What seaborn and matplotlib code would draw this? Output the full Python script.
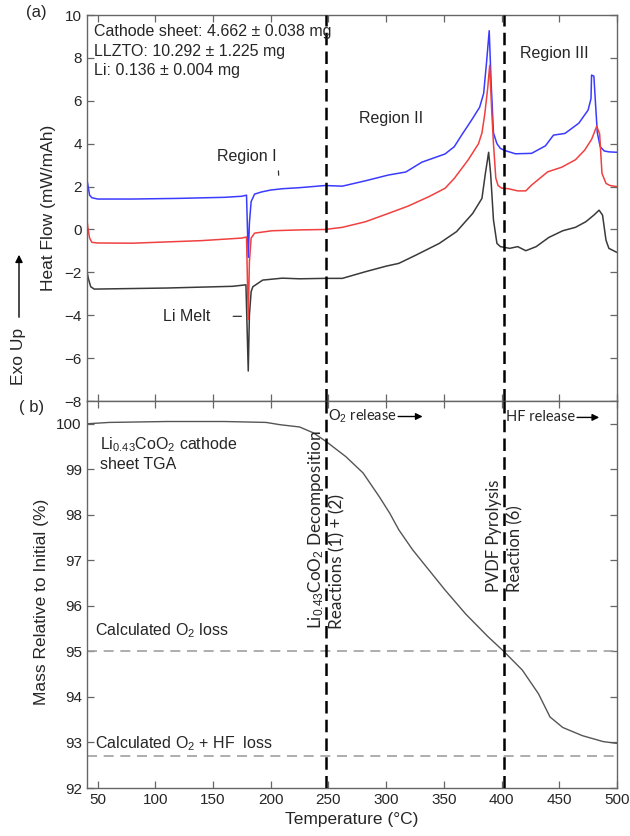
import matplotlib
matplotlib.use("Agg")
import matplotlib.pyplot as plt
import seaborn as sns
import pandas as pd

# ---------------- data ----------------
blue_T = [40.5, 41.5, 43, 45, 50, 80, 120, 160, 175, 179, 180.5, 181.5, 183, 186, 192, 200,
          210, 225, 247, 262, 282, 302, 317, 331, 351, 359, 366, 374, 381, 384.5, 387, 389.3,
          391, 393, 396, 399, 403, 412, 426, 438, 445, 455, 467, 475, 477.5, 478, 480, 481.5,
          483, 485.5, 489, 493, 500]
blue_v = [2.35, 2.1, 1.6, 1.48, 1.42, 1.42, 1.45, 1.5, 1.55, 1.6, -1.3, 0.3, 1.3, 1.65, 1.75, 1.84,
          1.9, 1.95, 2.05, 2.02, 2.27, 2.54, 2.68, 3.14, 3.52, 3.86, 4.45, 5.1, 5.7, 6.35, 7.8, 9.27,
          6.8, 4.5, 4.0, 3.78, 3.68, 3.53, 3.55, 3.9, 4.4, 4.48, 4.96, 5.57, 6.1, 7.2, 7.15, 5.8,
          4.5, 3.86, 3.66, 3.62, 3.6]

red_T = [40.5, 41.5, 43, 45, 50, 80, 140, 175, 179, 180.5, 181.5, 183, 186, 201, 225, 247, 262,
         282, 302, 319, 337, 351, 359, 371, 380, 383, 385.5, 388, 389.7, 391.5, 393, 395, 397,
         400, 406, 414, 421, 426, 440, 452, 464, 472, 478, 482.5, 485, 487, 490.5, 494, 500]
red_v = [0.55, 0.1, -0.4, -0.6, -0.63, -0.64, -0.52, -0.4, -0.35, -4.2, -1.5, -0.4, -0.17, -0.06,
         -0.02, 0.0, 0.1, 0.36, 0.75, 1.09, 1.53, 1.92, 2.38, 3.24, 4.0, 4.5, 5.4, 6.6, 7.65, 5.5,
         4.0, 2.4, 2.05, 1.93, 1.9, 1.8, 1.8, 2.07, 2.69, 2.9, 3.25, 3.7, 4.2, 4.82, 4.45, 2.62,
         2.15, 2.05, 2.0]

black_T = [40.5, 42, 44, 47, 110, 167, 178.5, 180.5, 181.5, 183, 184.5, 193, 210, 225, 247, 262,
           282, 300, 311, 326, 346, 361, 375, 383, 386, 388.8, 390.5, 393, 396, 399, 407, 414,
           421, 430, 441, 453, 464, 473, 480, 484.5, 487.5, 490.5, 493, 500]
black_v = [-1.9, -2.3, -2.67, -2.78, -2.73, -2.65, -2.58, -6.6, -4.0, -2.9, -2.67, -2.36, -2.27,
           -2.3, -2.28, -2.28, -1.97, -1.71, -1.58, -1.19, -0.65, -0.1, 0.75, 1.45, 2.62, 3.6,
           2.62, 0.44, -0.65, -0.8, -0.88, -0.8, -0.99, -0.8, -0.37, -0.06, 0.1, 0.36, 0.67,
           0.9, 0.67, -0.5, -0.88, -1.07]

tga_T = [40.5, 60, 110, 160, 196, 208, 225, 237, 248, 265, 280, 294, 303, 311, 323, 337, 351,
         369, 388, 402, 418, 432, 442, 453, 470, 488, 500]
tga_m = [100.0, 100.03, 100.05, 100.05, 100.03, 99.98, 99.93, 99.8, 99.61, 99.28, 98.92, 98.4,
         98.04, 97.67, 97.23, 96.79, 96.35, 95.82, 95.33, 95.0, 94.59, 94.07, 93.56, 93.33,
         93.15, 93.02, 92.98]

reaction_T = [247.5, 402]
calc_losses = [95.0, 92.7]

# ---------------- style ----------------
sns.set_style("ticks")
plt.rcParams['font.family'] = ['Liberation Sans', 'DejaVu Sans']
plt.rcParams['mathtext.fontset'] = 'custom'
plt.rcParams['mathtext.rm'] = 'Liberation Sans'
plt.rcParams['mathtext.it'] = 'Liberation Sans:italic'
plt.rcParams['mathtext.bf'] = 'Liberation Sans:bold'

SP = '#666666'
fig = plt.figure(figsize=(6.3, 8.36), dpi=100)
ax1 = fig.add_axes([0.1376, 0.5203, 0.8417, 0.4617])
ax2 = fig.add_axes([0.1376, 0.0574, 0.8417, 0.4629])

df_b = pd.DataFrame({'T': blue_T, 'v': blue_v})
df_r = pd.DataFrame({'T': red_T, 'v': red_v})
df_k = pd.DataFrame({'T': black_T, 'v': black_v})
df_t = pd.DataFrame({'T': tga_T, 'm': tga_m})

sns.lineplot(data=df_b, x='T', y='v', ax=ax1, color='#3b3bff', lw=1.1, estimator=None, sort=False)
sns.lineplot(data=df_k, x='T', y='v', ax=ax1, color='#3a3a3a', lw=1.1, estimator=None, sort=False)
sns.lineplot(data=df_r, x='T', y='v', ax=ax1, color='#f04040', lw=1.1, estimator=None, sort=False)
sns.lineplot(data=df_t, x='T', y='m', ax=ax2, color='#555555', lw=1.0, estimator=None, sort=False)

for ax in (ax1, ax2):
    for t in reaction_T:
        ax.axvline(t, color='black', lw=1.8, ls=(0, (5, 2.5)), zorder=3)
    ax.set_xlim(40.5, 500)
    ax.set_xticks(range(50, 501, 50))
    ax.tick_params(direction='in', top=True, right=True, length=5, width=0.9,
                   color=SP, labelsize=11)
    for s in ax.spines.values():
        s.set_color(SP)
        s.set_linewidth(1.0)

for c in calc_losses:
    ax2.axhline(c, color='#a0a0a0', lw=1.2, ls=(0, (6, 4)), zorder=1)

ax1.set_ylim(-8, 10)
ax1.set_yticks(range(-8, 11, 2))
ax1.tick_params(labelbottom=False)
ax1.set_xlabel('')
ax1.set_ylabel('Heat Flow (mW/mAh)', fontsize=12.5)
ax1.yaxis.set_label_coords(-0.057, 0.5)

ax2.set_ylim(92, 100.5)
ax2.set_yticks(range(92, 101))
ax2.set_xlabel('Temperature (°C)', fontsize=12.5, labelpad=4)
ax2.set_ylabel('Mass Relative to Initial (%)', fontsize=12.5)
ax2.yaxis.set_label_coords(-0.071, 0.48)

# ---------- panel (a) annotations ----------
fs = 11.5
ax1.text(47, 9.22, 'Cathode sheet: 4.662 ± 0.038 mg', fontsize=fs, va='center', ha='left')
ax1.text(47, 8.32, 'LLZTO: 10.292 ± 1.225 mg', fontsize=fs, va='center', ha='left')
ax1.text(47, 7.43, 'Li: 0.136 ± 0.004 mg', fontsize=fs, va='center', ha='left')
ax1.text(179, 3.39, 'Region I', fontsize=fs, va='center', ha='center')
ax1.annotate('', xy=(207, 2.4), xytext=(206.5, 2.86),
             arrowprops=dict(arrowstyle='-', color='#333333', lw=0.9))
ax1.text(304, 5.18, 'Region II', fontsize=fs, va='center', ha='center')
ax1.text(446, 8.21, 'Region III', fontsize=fs, va='center', ha='center')
ax1.text(127, -4.07, 'Li Melt', fontsize=fs, va='center', ha='center')
ax1.annotate('', xy=(177, -4.05), xytext=(165, -4.05),
             arrowprops=dict(arrowstyle='-', color='#333333', lw=0.9))

fig.text(36 / 630, 1 - 13 / 836, '(a)', fontsize=12, ha='center', va='center')
fig.text(32 / 630, 1 - 407 / 836, '( b)', fontsize=12, ha='center', va='center')
fig.text(19 / 630, 1 - 356 / 836, 'Exo Up', fontsize=12.5, rotation=90, ha='center', va='center')
fig.add_artist(matplotlib.patches.FancyArrowPatch(
    (19 / 630, 1 - 320 / 836), (19 / 630, 1 - 252 / 836), transform=fig.transFigure,
    arrowstyle='-|>', mutation_scale=11, color='black', lw=1.0))

# ---------- panel (b) annotations ----------
ax2.text(52, 99.54, 'Li$_{0.43}$CoO$_2$ cathode', fontsize=fs, va='center', ha='left')
ax2.text(52, 99.1, 'sheet TGA', fontsize=fs, va='center', ha='left')
ax2.text(48, 95.45, 'Calculated O$_2$ loss', fontsize=fs, va='center', ha='left')
ax2.text(48, 92.98, 'Calculated O$_2$ + HF  loss', fontsize=fs, va='center', ha='left')

lfam = ['Lato', 'DejaVu Sans']
ax2.text(249.5, 100.16, 'O$_2$ release', fontsize=10.5, va='center', ha='left', family=lfam)
ax2.annotate('', xy=(334, 100.16), xytext=(308, 100.16),
             arrowprops=dict(arrowstyle='-|>', color='black', lw=1.0, mutation_scale=10))
ax2.text(404, 100.14, 'HF release', fontsize=10.5, va='center', ha='left', family=lfam)
ax2.annotate('', xy=(487, 100.14), xytext=(463, 100.14),
             arrowprops=dict(arrowstyle='-|>', color='black', lw=1.0, mutation_scale=10))

ax2.text(239.0, 95.5, 'Li$_{0.43}$CoO$_2$ Decomposition', fontsize=12.3, rotation=90,
         ha='center', va='bottom', family=lfam)
ax2.text(257.5, 95.5, 'Reactions (1) + (2)', fontsize=12.3, rotation=90,
         ha='center', va='bottom', family=lfam)
ax2.text(393.5, 96.3, 'PVDF Pyrolysis', fontsize=12, rotation=90,
         ha='center', va='bottom', family=lfam)
ax2.text(412, 96.3, 'Reaction (6)', fontsize=12, rotation=90,
         ha='center', va='bottom', family=lfam)

fig.savefig('out.png', dpi=100)
